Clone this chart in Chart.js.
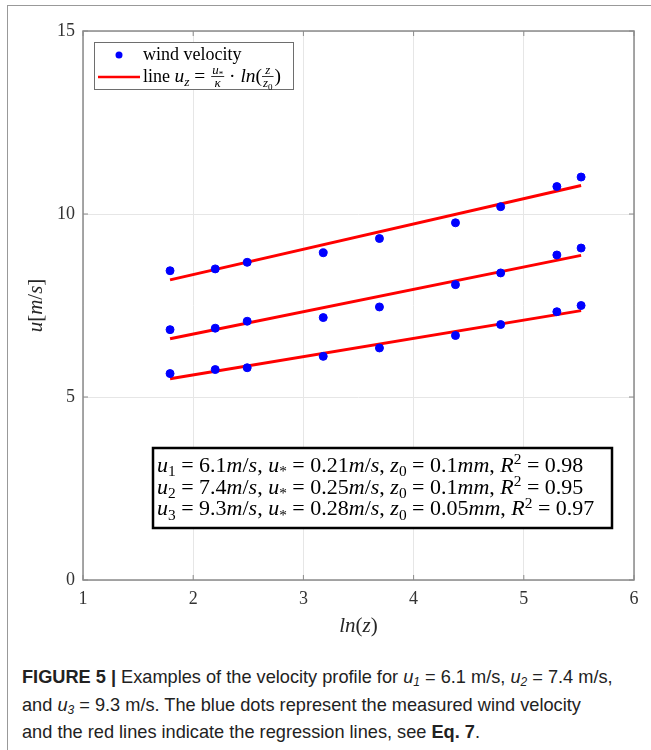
<!DOCTYPE html>
<html>
<head>
<meta charset="utf-8">
<script src="https://cdn.jsdelivr.net/npm/chart.js@4.4.1/dist/chart.umd.min.js"></script>
<style>
  body { margin: 0; background: #fff; width: 651px; height: 750px; overflow: hidden; position: relative; }
  #frame { position: absolute; left: 7px; top: 5px; width: 700px; height: 800px;
           border-left: 1px solid #999; border-top: 1px solid #999; }
  #grafico { position: absolute; left: 0; top: 0; }
  #legenda { position: absolute; left: 22px; top: 664px; font-family: "Liberation Sans", Arial, sans-serif;
             font-size: 18.2px; line-height: 27.5px; color: #222; white-space: nowrap; }
  #legenda b { font-weight: bold; }
  #legenda sub { font-size: 12px; line-height: 0; vertical-align: -3px; font-style: italic; }
</style>
</head>
<body>
<div id="frame"></div>
<canvas id="grafico" width="651" height="655"></canvas>
<div id="legenda">
  <b>FIGURE 5 |</b> Examples of the velocity profile for <i>u</i><sub>1</sub> = 6.1 m/s, <i>u</i><sub>2</sub> = 7.4 m/s,<br>
  and <i>u</i><sub>3</sub> = 9.3 m/s. The blue dots represent the measured wind velocity<br>
  and the red lines indicate the regression lines, see <b>Eq. 7</b>.
</div>
<script>
// ln(z) das alturas de medição
const lnZ = [1.79, 2.2, 2.49, 3.18, 3.69, 4.38, 4.79, 5.3, 5.52];
// velocidades medidas (m/s)
const ventoU1 = [5.64, 5.75, 5.80, 6.11, 6.34, 6.68, 6.98, 7.33, 7.50];
const ventoU2 = [6.84, 6.88, 7.07, 7.17, 7.46, 8.07, 8.39, 8.88, 9.07];
const ventoU3 = [8.45, 8.50, 8.68, 8.94, 9.33, 9.76, 10.20, 10.75, 11.01];
// retas de regressão (extremos)
const retaX = [1.79, 5.52];
const retaU1 = [5.50, 7.36];
const retaU2 = [6.59, 8.87];
const retaU3 = [8.20, 10.78];
// parâmetros do ajuste
const uMedio = ['6.1', '7.4', '9.3'];
const uAtrito = ['0.21', '0.25', '0.28'];
const z0 = ['0.1', '0.1', '0.05'];
const r2 = ['0.98', '0.95', '0.97'];
const ticksX = [1, 2, 3, 4, 5, 6];
const ticksY = [0, 5, 10, 15];

const serif = '"Liberation Serif", "DejaVu Serif", serif';
const azul = '#0000ff';
const vermelho = '#ff0000';

function pontos(xs, ys) { return xs.map((x, i) => ({ x: x, y: ys[i] })); }

// quebra uma expressão em pedaços: letras em itálico, _ e ^ para índices
function tokens(str) {
  const out = [];
  for (let i = 0; i < str.length; i++) {
    const c = str[i];
    if ((c === '_' || c === '^') && i + 1 < str.length) {
      const n = str[++i];
      out.push({ s: n, it: /[a-zA-Z]/.test(n), sc: 0.7, dy: c === '_' ? 0.22 : -0.38 });
    } else {
      out.push({ s: c, it: /[a-zA-Zκ]/.test(c), sc: 1, dy: 0 });
    }
  }
  return out;
}
function larguraTokens(ctx, toks, size, k = 1) {
  let w = 0;
  toks.forEach(t => {
    ctx.font = (t.it ? 'italic ' : '') + (size * t.sc) + 'px ' + serif;
    w += ctx.measureText(t.s).width * k;
  });
  return w;
}
// k estica o texto na horizontal (a fonte LaTeX é mais larga)
function desenhaTokens(ctx, toks, x, y, size, k = 1) {
  toks.forEach(t => {
    ctx.font = (t.it ? 'italic ' : '') + (size * t.sc) + 'px ' + serif;
    ctx.save();
    ctx.translate(x, y + t.dy * size);
    ctx.scale(k, 1);
    ctx.fillText(t.s, 0, 0);
    ctx.restore();
    x += ctx.measureText(t.s).width * k;
  });
  return x;
}
function desenhaFracao(ctx, num, den, x, yMeio, size, k = 1) {
  const tn = tokens(num), td = tokens(den);
  const wn = larguraTokens(ctx, tn, size, k), wd = larguraTokens(ctx, td, size, k);
  const w = Math.max(wn, wd) + 2;
  desenhaTokens(ctx, tn, x + (w - wn) / 2, yMeio - 3, size, k);
  desenhaTokens(ctx, td, x + (w - wd) / 2, yMeio + size * 0.85, size, k);
  ctx.fillRect(x, yMeio - 1, w, 0.8);
  return x + w;
}

const moldura = {
  id: 'moldura',
  beforeDatasetsDraw(chart) {
    const { ctx, chartArea: a, scales } = chart;
    ctx.save();
    ctx.strokeStyle = '#8a8a8a';
    ctx.lineWidth = 1.5;
    ctx.strokeRect(a.left, a.top, a.right - a.left, a.bottom - a.top);
    // marcas internas dos eixos
    ctx.lineWidth = 1;
    ticksX.forEach(v => {
      const px = scales.x.getPixelForValue(v);
      ctx.beginPath(); ctx.moveTo(px, a.bottom); ctx.lineTo(px, a.bottom - 5);
      ctx.moveTo(px, a.top); ctx.lineTo(px, a.top + 5); ctx.stroke();
    });
    ticksY.forEach(v => {
      const py = scales.y.getPixelForValue(v);
      ctx.beginPath(); ctx.moveTo(a.left, py); ctx.lineTo(a.left + 5, py);
      ctx.moveTo(a.right, py); ctx.lineTo(a.right - 5, py); ctx.stroke();
    });
    ctx.restore();
  },
  afterDraw(chart) {
    const { ctx, chartArea: a } = chart;
    ctx.save();
    ctx.fillStyle = '#262626';
    ctx.textBaseline = 'alphabetic';

    // título eixo x
    const tx = tokens('ln(z)');
    const wx = larguraTokens(ctx, tx, 21);
    desenhaTokens(ctx, tx, (a.left + a.right) / 2 - wx / 2, 632, 21);

    // título eixo y
    const ty = tokens('u[m/s]');
    const wy = larguraTokens(ctx, ty, 21);
    ctx.save();
    ctx.translate(42, (a.top + a.bottom) / 2);
    ctx.rotate(-Math.PI / 2);
    desenhaTokens(ctx, ty, -wy / 2, 0, 21);
    ctx.restore();

    // legenda
    const ds = chart.data.datasets;
    ctx.fillStyle = '#fff';
    ctx.fillRect(94, 42, 199, 47);
    ctx.strokeStyle = '#6e6e6e';
    ctx.lineWidth = 1;
    ctx.strokeRect(94.5, 42.5, 199, 47);
    ctx.fillStyle = ds[0].backgroundColor;
    ctx.beginPath(); ctx.arc(119, 55, 3.5, 0, Math.PI * 2); ctx.fill();
    ctx.strokeStyle = ds[3].borderColor;
    ctx.lineWidth = 2.5;
    ctx.beginPath(); ctx.moveTo(98, 77); ctx.lineTo(140, 77); ctx.stroke();
    ctx.fillStyle = '#000';
    ctx.font = '18px ' + serif;
    ctx.fillText('wind velocity', 143, 60);
    ctx.fillText('line', 143, 82);
    const kl = 1.08;
    let x = 143 + ctx.measureText('line ').width;
    x = desenhaTokens(ctx, tokens('u_z = '), x, 82, 18, kl);
    x = desenhaFracao(ctx, 'u_*', 'κ', x + 1, 77, 12, kl);
    x = desenhaTokens(ctx, tokens(' · ln('), x, 82, 18, kl);
    x = desenhaFracao(ctx, 'z', 'z_0', x, 77, 12, kl);
    desenhaTokens(ctx, tokens(')'), x + 1, 82, 18, kl);

    // caixa com os parâmetros
    ctx.fillStyle = '#fff';
    ctx.fillRect(152, 447, 461, 82);
    ctx.strokeStyle = '#000';
    ctx.lineWidth = 2.5;
    ctx.strokeRect(153, 448, 459, 80);
    ctx.fillStyle = '#000';
    for (let i = 0; i < 3; i++) {
      const linha = 'u_' + (i + 1) + ' = ' + uMedio[i] + 'm/s, u_* = ' + uAtrito[i] +
        'm/s, z_0 = ' + z0[i] + 'mm, R^2 = ' + r2[i];
      desenhaTokens(ctx, tokens(linha), 157, 472 + i * 21.7, 20, 1.1);
    }
    ctx.restore();
  }
};

const ctx = document.getElementById('grafico').getContext('2d');
new Chart(ctx, {
  type: 'scatter',
  data: {
    datasets: [
      { label: 'u1', data: pontos(lnZ, ventoU1), backgroundColor: azul, borderColor: azul, pointRadius: 4, order: 0 },
      { label: 'u2', data: pontos(lnZ, ventoU2), backgroundColor: azul, borderColor: azul, pointRadius: 4, order: 0 },
      { label: 'u3', data: pontos(lnZ, ventoU3), backgroundColor: azul, borderColor: azul, pointRadius: 4, order: 0 },
      { label: 'reta1', data: pontos(retaX, retaU1), showLine: true, borderColor: vermelho, borderWidth: 3, pointRadius: 0, order: 1 },
      { label: 'reta2', data: pontos(retaX, retaU2), showLine: true, borderColor: vermelho, borderWidth: 3, pointRadius: 0, order: 1 },
      { label: 'reta3', data: pontos(retaX, retaU3), showLine: true, borderColor: vermelho, borderWidth: 3, pointRadius: 0, order: 1 }
    ]
  },
  options: {
    responsive: false,
    animation: false,
    devicePixelRatio: 1,
    layout: { padding: { top: 31, right: 17, left: 0, bottom: 0 } },
    plugins: { legend: { display: false }, tooltip: { enabled: false } },
    scales: {
      x: {
        type: 'linear', min: 1, max: 6,
        afterFit(s) { s.height = 75; },
        afterBuildTicks(s) { s.ticks = ticksX.map(v => ({ value: v })); },
        grid: { color: '#e6e6e6', drawTicks: false },
        border: { display: false },
        ticks: { padding: 8, color: '#333', font: { family: serif, size: 18 } }
      },
      y: {
        type: 'linear', min: 0, max: 15,
        afterFit(s) { s.width = 83; },
        afterBuildTicks(s) { s.ticks = ticksY.map(v => ({ value: v })); },
        grid: { color: '#e6e6e6', drawTicks: false },
        border: { display: false },
        ticks: { padding: 8, color: '#333', font: { family: serif, size: 18 } }
      }
    }
  },
  plugins: [moldura]
});
</script>
</body>
</html>
